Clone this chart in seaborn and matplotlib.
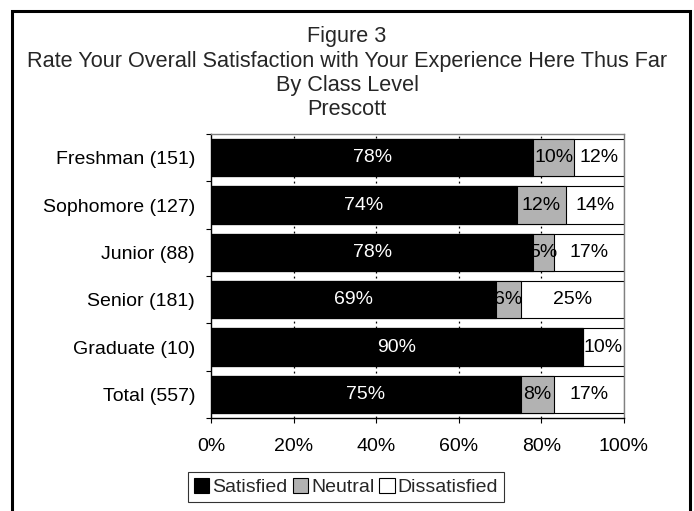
import matplotlib
matplotlib.use("Agg")
import matplotlib.pyplot as plt
import matplotlib.patches as mpatches
import seaborn as sns
import pandas as pd
import numpy as np

categories = ["Freshman (151)", "Sophomore (127)", "Junior (88)", "Senior (181)", "Graduate (10)", "Total (557)"]
satisfied = [78, 74, 78, 69, 90, 75]
neutral = [10, 12, 5, 6, 0, 8]
dissatisfied = [12, 14, 17, 25, 10, 17]
xticks = [0, 20, 40, 60, 80, 100]
xtick_labels = ["0%", "20%", "40%", "60%", "80%", "100%"]
title_lines = ["Figure 3", "Rate Your Overall Satisfaction with Your Experience Here Thus Far",
               "By Class Level", "Prescott"]
series_names = ["Satisfied", "Neutral", "Dissatisfied"]
colors = ["#000000", "#b2b2b2", "#ffffff"]

sns.set_theme(style="white")
plt.rcParams["font.family"] = ["Liberation Sans", "DejaVu Sans"]

FS = 14

df = pd.DataFrame({"cat": categories, "s": satisfied, "n": neutral, "d": dissatisfied})
df["sn"] = df["s"] + df["n"]
df["snd"] = df["sn"] + df["d"]

W, H = 694, 511
fig = plt.figure(figsize=(W/100, H/100), dpi=100)
ax = fig.add_axes([211/W, 1-418/H, 413/W, 284/H])

bw = 0.79
sns.barplot(data=df, y="cat", x="snd", color=colors[2], edgecolor="black", linewidth=0.8, width=bw, ax=ax, orient="h", saturation=1)
sns.barplot(data=df, y="cat", x="sn", color=colors[1], edgecolor="black", linewidth=0.8, width=bw, ax=ax, orient="h", saturation=1)
sns.barplot(data=df, y="cat", x="s", color=colors[0], edgecolor="black", linewidth=0.8, width=bw, ax=ax, orient="h", saturation=1)

for i, (s, n, d) in enumerate(zip(satisfied, neutral, dissatisfied)):
    ax.text(s/2, i, f"{s}%", color="white", ha="center", va="center", fontsize=FS)
    if n > 0:
        ax.text(s + n/2, i, f"{n}%", color="black", ha="center", va="center", fontsize=FS)
    if d > 0:
        ax.text(s + n + d/2, i, f"{d}%", color="black", ha="center", va="center", fontsize=FS)

ax.set_xlim(0, 100)
ax.set_ylim(len(categories) - 0.5, -0.5)
ax.set_xticks(xticks)
ax.set_xticklabels(xtick_labels, fontsize=FS)
ax.set_xlabel("")
ax.set_ylabel("")
ax.set_yticks(range(len(categories)))
ax.set_yticklabels(categories)
ax.tick_params(axis="y", labelsize=FS, length=0, pad=11.5)
ax.tick_params(axis="x", length=3.6, width=0.8, color="black", direction="out", bottom=True, pad=11)
ax.set_yticks(np.arange(-0.5, len(categories), 1), minor=True)
ax.tick_params(axis="y", which="minor", length=3.6, width=0.8, color="black", direction="out", left=True)
for xv in xticks[1:-1]:
    ax.axvline(xv, color="black", linestyle=(0, (1.5, 2.5)), linewidth=0.9, zorder=0.5)
for sp in ["left", "bottom"]:
    ax.spines[sp].set_color("black")
    ax.spines[sp].set_linewidth(1.0)
for sp in ["top", "right"]:
    ax.spines[sp].set_color("#808080")
    ax.spines[sp].set_linewidth(1.0)
for t in ax.get_xticklabels() + ax.get_yticklabels():
    t.set_color("black")

for line, yb in zip(title_lines, [42, 66.5, 91, 115]):
    fig.text(0.5, 1 - yb/H, line, ha="center", va="baseline", fontsize=15.6)

handles = [mpatches.Patch(facecolor=c, edgecolor="black", linewidth=0.8, label=l) for c, l in zip(colors, series_names)]
leg = fig.legend(handles=handles, loc="center", bbox_to_anchor=(346/W, 1 - 487/H), ncol=3,
                 frameon=True, fancybox=False, fontsize=FS, handlelength=0.8, handleheight=0.8,
                 handletextpad=0.15, columnspacing=0.25, borderpad=0.3, borderaxespad=0)
leg.get_frame().set_edgecolor("black")
leg.get_frame().set_linewidth(0.8)

border = mpatches.Rectangle((12/W, -0.05), (690-12)/W, 1 - 11/H + 0.05, transform=fig.transFigure,
                            fill=False, edgecolor="black", linewidth=2.2)
fig.patches.append(border)

fig.savefig("out.png", dpi=100)
